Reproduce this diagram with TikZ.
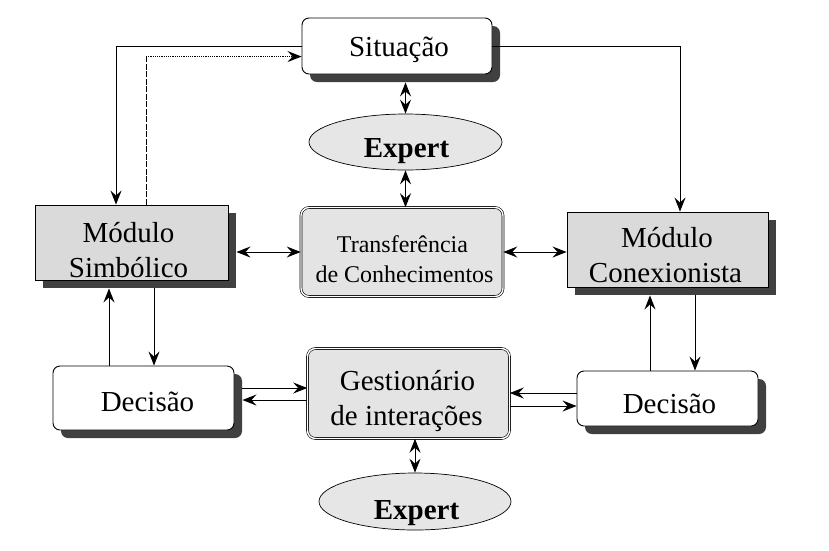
\documentclass[tikz,border=0pt]{standalone}
\usepackage{fontspec}
\setmainfont{Liberation Serif}
\usetikzlibrary{arrows.meta,shapes.geometric,shadows,calc}
\definecolor{boxgray}{HTML}{DADADA}
\definecolor{ellgray}{HTML}{E6E6E6}
\definecolor{midgray}{HTML}{E4E4E4}
\definecolor{shadowgray}{HTML}{404040}
\begin{document}
\begin{tikzpicture}[x=1pt,y=-1pt,
  >={Stealth[length=14pt,width=11pt,inset=5pt]},
  big/.style={font=\fontsize{29}{34}\selectfont,anchor=base,inner sep=0pt},
  mid/.style={font=\fontsize{24}{30}\selectfont,anchor=base,inner sep=0pt},
  bold/.style={font=\fontsize{29}{34}\selectfont\bfseries,anchor=base,inner sep=0pt},
  shad/.style={drop shadow={shadow xshift=8pt,shadow yshift=-8pt,fill=shadowgray,opacity=1}},
  whitebox/.style={draw,line width=0.9pt,rounded corners=7pt,fill=white,shad,inner sep=0pt},
  modbox/.style={draw,line width=0.9pt,fill=boxgray,shad,inner sep=0pt},
  dblbox/.style={draw,double,double distance=1.4pt,line width=0.6pt,rounded corners=8pt,fill=midgray,inner sep=0pt},
  expell/.style={draw,ellipse,line width=0.7pt,fill=ellgray,inner sep=0pt},
  arr/.style={line width=1pt,->},
  darr/.style={line width=1pt,<->}
]
\useasboundingbox (0,0) rectangle (829,550);

% boxes
\node[whitebox,minimum width=190pt,minimum height=56pt] (sit) at (397,46) {};
\node[expell,minimum width=193pt,minimum height=56pt] (exp1) at (405.5,142) {};
\node[dblbox,minimum width=202pt,minimum height=89pt] (transf) at (402,252) {};
\node[modbox,minimum width=193pt,minimum height=75pt] (simb) at (131.5,242.5) {};
\node[modbox,minimum width=201pt,minimum height=75pt] (conex) at (667.5,249.5) {};
\node[whitebox,minimum width=181pt,minimum height=64pt] (decL) at (143.5,398) {};
\node[whitebox,minimum width=181pt,minimum height=55pt] (decR) at (667.5,398.5) {};
\node[dblbox,minimum width=202pt,minimum height=90pt] (gest) at (408.5,393.5) {};
\node[expell,minimum width=192pt,minimum height=57pt] (exp2) at (415,501.5) {};

% texts
\node[big] (sitT) at (399,56) {Situação};
\node[bold] (exp1T) at (406.5,157) {Expert};
\node[mid] (transfT1) at (402.5,252) {Transferência};
\node[mid] (transfT2) at (404.5,282) {de Conhecimentos};
\node[big] (simbT1) at (128.5,242) {Módulo};
\node[big] (simbT2) at (128.5,277) {Simbólico};
\node[big] (conexT1) at (667,247) {Módulo};
\node[big] (conexT2) at (665.5,282) {Conexionista};
\node[big] (decLT) at (147.5,411) {Decisão};
\node[big] (decRT) at (669.5,413) {Decisão};
\node[big] (gestT1) at (407.5,390) {Gestionário};
\node[big] (gestT2) at (406.5,425) {de interações};
\node[bold] (exp2T) at (416.5,519) {Expert};

% top connections
\draw[arr] (sit.west) -| ([xshift=-15.5pt]simb.north);
\coordinate (ds) at ([xshift=14.5pt]simb.north);
\coordinate (dc) at ($(ds)+(0,-148)$);
\draw[line width=0.9pt,dash pattern=on 6pt off 1.5pt] (ds) -- (dc);
\draw[arr,line width=1.3pt,dash pattern=on 1.2pt off 1pt] (dc) -- (dc -| sit.west);
\draw[arr] (sit.east) -| ([xshift=12.5pt]conex.north);

% expert links
\draw[darr] ($(sit.south -| exp1.north)+(0,8)$) -- (exp1.north);
\draw[darr] (exp1.south) -- (exp1.south |- transf.north);
\draw[darr] ($(simb.east |- transf.west)+(8,0)$) -- (transf.west);
\draw[darr] (conex.west |- transf.east) -- (transf.east);

% left module / decision
\coordinate (a1) at ([xshift=-34.5pt]decL.north);
\draw[arr] (a1) -- ($(a1 |- simb.south)+(0,8)$);
\coordinate (a2) at ([xshift=22.5pt]simb.south);
\draw[arr] ($(a2)+(0,8)$) -- (a2 |- decL.north);

% right module / decision
\coordinate (b1) at ([xshift=-17.5pt]decR.north);
\draw[arr] (b1) -- ($(b1 |- conex.south)+(0,8)$);
\coordinate (b2) at ([xshift=27.5pt]conex.south);
\draw[arr] ($(b2)+(0,8)$) -- (b2 |- decR.north);

% decisions and gestionario
\coordinate (g1) at ($(gest.west)+(0,-5.5)$);
\coordinate (g2) at ($(gest.west)+(0,6.5)$);
\draw[arr] ($(g1 -| decL.east)+(8,0)$) -- (g1);
\draw[arr] (g2) -- ($(g2 -| decL.east)+(8,0)$);
\coordinate (g3) at ($(gest.east)+(0,-0.5)$);
\coordinate (g4) at ($(gest.east)+(0,12.5)$);
\draw[arr] (g3 -| decR.west) -- (g3);
\draw[arr] (g4) -- (g4 -| decR.west);

\draw[darr] (exp2.north |- gest.south) -- (exp2.north);
\end{tikzpicture}
\end{document}
